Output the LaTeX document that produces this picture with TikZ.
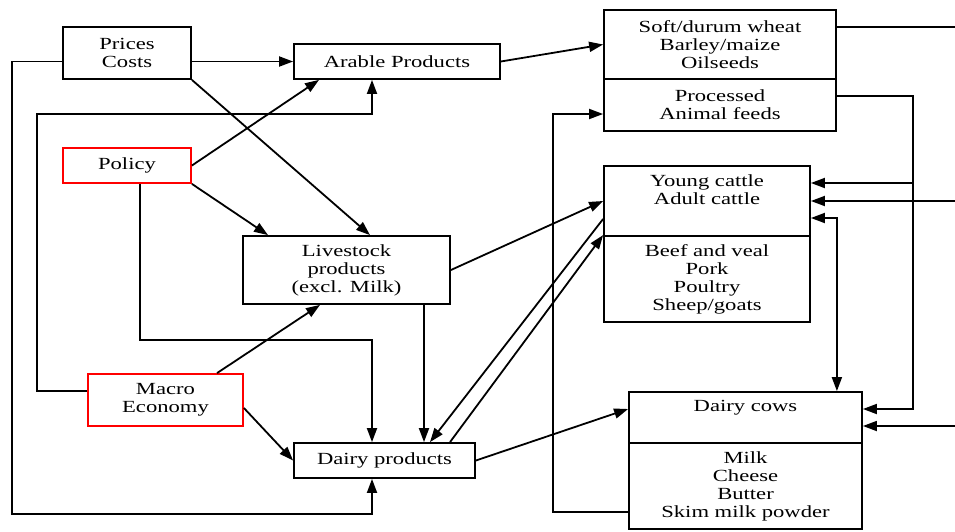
\documentclass[tikz,border=0pt]{standalone}
\usepackage{fontspec}
\setmainfont[FakeStretch=1.33]{Liberation Serif}
\usetikzlibrary{arrows.meta}

\begin{document}
\begin{tikzpicture}[
	%	style def
    x=1pt, y=-1pt,
    important line/.style={line width=1.8pt},
    box/.style={draw, line width=1.8pt, inner sep=0pt, align=center, font=\fontsize{17}{18}\selectfont},
    red box/.style={box, draw=red},
    >={Triangle[length=14pt,width=10pt]}
    ]
    \useasboundingbox (0,0) rectangle (955,531);

	% left side boxes
    \node[box, minimum width=128pt, minimum height=52pt] (prices) at (127,53) {Prices\\Costs};
    \node[box, minimum width=206pt, minimum height=35pt] (arable) at (397,61.5) {Arable Products};
    \node[red box, minimum width=128pt, minimum height=35pt] (policy) at (127,165.5) {Policy};
    \node[box, minimum width=207pt, minimum height=68pt] (livestock) at (346.5,270) {Livestock\\products\\(excl. Milk)};
    \node[red box, minimum width=155pt, minimum height=52pt] (macro) at (165.5,400) {Macro\\Economy};
    \node[box, minimum width=181pt, minimum height=35pt] (dairy) at (384.5,460.5) {Dairy products};

	% right side boxes
    \node[box, minimum width=232pt, minimum height=69pt] (crops) at (720,44.5) {Soft/durum wheat\\Barley/maize\\Oilseeds};
    \node[box, minimum width=232pt, minimum height=52pt] (feeds) at (720,105) {Processed\\Animal feeds};
    \node[box, minimum width=206pt, minimum height=70pt] (cattle) at (707,201) {Young cattle\\Adult cattle\\\strut};
    \node[box, minimum width=206pt, minimum height=86pt] (meat) at (707,279) {Beef and veal\\Pork\\Poultry\\Sheep/goats};
    \node[box, minimum width=233pt, minimum height=51pt] (cows) at (745.5,417.5) {Dairy cows\\\strut};
    \node[box, minimum width=233pt, minimum height=86pt] (milk) at (745.5,486) {Milk\\Cheese\\Butter\\Skim milk powder};

	% helper coordinates
    \coordinate (mid) at (372,0);
    \coordinate (mid2) at (424,0);
    \coordinate (rail) at (913,0);
    \coordinate (edge) at (955,0);
    \coordinate (cropsout) at ([yshift=17.5pt]crops.east);
    \coordinate (cowsin) at ([yshift=8.5pt]cows.east);
    \coordinate (cowsout) at ([yshift=-8.5pt]cows.east);
    \coordinate (youngin) at ([yshift=18pt]cattle.east);

	% connection of boxes
    \draw[important line, ->] (prices.east |- arable.west) -- (arable.west);
    \draw[important line, ->] (prices.south east) -- ([xshift=23.5pt]livestock.north);
    \draw[important line, ->] (prices.west |- arable.west) -| (12,514) -| (mid |- dairy.south);
    \draw[important line, ->] (policy.east) -- ([xshift=-78pt]arable.south);
    \draw[important line, ->] (policy.south east) -- ([xshift=-78.5pt]livestock.north);
    \draw[important line, ->] ([xshift=13pt]policy.south) -- ++(0,156) -| (mid |- dairy.north);
    \draw[important line, ->] ([yshift=9pt]macro.west) -| (37,114) -| (mid |- arable.south);
    \draw[important line, ->] ([xshift=51.5pt]macro.north) -- ([xshift=-26.5pt]livestock.south);
    \draw[important line, ->] ([yshift=-8pt]macro.east) -- (dairy.west);
    \draw[important line, ->] (mid2 |- livestock.south) -- (mid2 |- dairy.north);
    \draw[important line, ->] (livestock.east) -- (cattle.west);
    \draw[important line, ->] ([yshift=-18pt]cattle.west) -- ([xshift=45.5pt]dairy.north);
    \draw[important line, ->] ([xshift=65.5pt]dairy.north) -- (meat.north west);
    \draw[important line, ->] (dairy.east) -- ([yshift=8.5pt]cows.west);
    \draw[important line, ->] (arable.east) -- (crops.west);
    \draw[important line, ->] ([yshift=-26pt]milk.west) -- ++(-75,0) |- ([yshift=-9pt]feeds.west);

	% links on the right edge
    \draw[important line] (cropsout) -- (edge |- cropsout);
    \draw[important line, ->] ([yshift=9pt]feeds.east) -| (rail |- cowsin) -- (cowsin);
    \draw[important line, ->] (rail |- youngin) -- (youngin);
    \draw[important line, ->] (edge |- cattle.east) -- (cattle.east);
    \draw[important line, <->] ([yshift=-17pt]cattle.east) -| (crops.east |- cows.north);
    \draw[important line, ->] (edge |- cowsout) -- (cowsout);

\end{tikzpicture}
\end{document}
